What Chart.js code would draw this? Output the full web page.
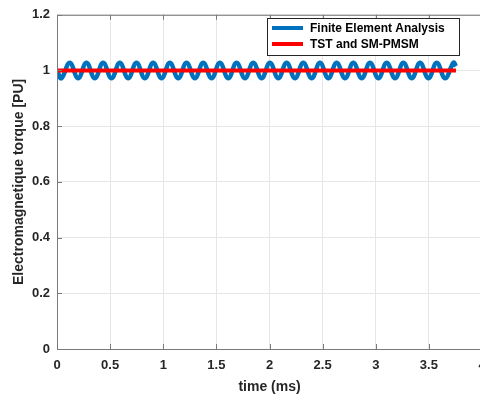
<!DOCTYPE html>
<html>
<head>
<meta charset="utf-8">
<script src="https://cdn.jsdelivr.net/npm/chart.js@4.4.1/dist/chart.umd.min.js"></script>
<style>
  html, body { margin: 0; padding: 0; overflow: hidden; background: #fff; }
  #wrap { width: 500px; height: 398px; }
</style>
</head>
<body>
<div id="wrap"><canvas id="myChart" width="500" height="398"></canvas></div>
<script>
// time (ms) of each ripple peak / trough of the FEA torque
const feaTime = [0, 0.042, 0.120, 0.199, 0.277, 0.356, 0.434, 0.513, 0.591, 0.670, 0.748,
  0.827, 0.905, 0.984, 1.062, 1.141, 1.219, 1.298, 1.376, 1.455, 1.533,
  1.612, 1.690, 1.769, 1.847, 1.926, 2.004, 2.083, 2.161, 2.240, 2.318,
  2.397, 2.475, 2.554, 2.632, 2.711, 2.789, 2.868, 2.946, 3.025, 3.103,
  3.182, 3.260, 3.339, 3.417, 3.496, 3.574, 3.653, 3.731, 3.755];
const feaTorque = [1.0, 0.972, 1.028, 0.972, 1.028, 0.972, 1.028, 0.972, 1.028, 0.972, 1.028,
  0.972, 1.028, 0.972, 1.028, 0.972, 1.028, 0.972, 1.028, 0.972, 1.028,
  0.972, 1.028, 0.972, 1.028, 0.972, 1.028, 0.972, 1.028, 0.972, 1.028,
  0.972, 1.028, 0.972, 1.028, 0.972, 1.028, 0.972, 1.028, 0.972, 1.028,
  0.972, 1.028, 0.972, 1.028, 0.972, 1.028, 0.972, 1.028, 1.015];
const tstTime = [0, 3.755];
const tstTorque = [1, 1];
const xTicks = [0, 0.5, 1, 1.5, 2, 2.5, 3, 3.5, 4];
const yTicks = [0, 0.2, 0.4, 0.6, 0.8, 1, 1.2];
const seriesNames = ['Finite Element Analysis', 'TST and SM-PMSM'];

const FONT = 'Liberation Sans, Arial, sans-serif';
const INK = '#262626';

function pts(xs, ys) {
  return xs.map((x, i) => ({ x: x, y: ys[i] }));
}

// MATLAB-like box, inward tick marks and legend
const matlabFrame = {
  id: 'matlabFrame',
  afterDraw(chart) {
    const ctx = chart.ctx;
    const a = chart.chartArea;
    const xs = chart.scales.x, ys = chart.scales.y;
    ctx.save();
    ctx.strokeStyle = '#7a7a7a';
    ctx.lineWidth = 1;
    ctx.beginPath();
    ctx.moveTo(a.left + 0.5, a.top + 0.5);
    ctx.lineTo(a.left + 0.5, a.bottom + 0.5);
    ctx.lineTo(a.right, a.bottom + 0.5);
    ctx.moveTo(a.left + 0.5, a.top + 0.5);
    ctx.lineTo(a.right, a.top + 0.5);
    xTicks.forEach(v => {
      const px = Math.round(xs.getPixelForValue(v)) + 0.5;
      ctx.moveTo(px, a.bottom); ctx.lineTo(px, a.bottom - 5);
      ctx.moveTo(px, a.top); ctx.lineTo(px, a.top + 5);
    });
    yTicks.forEach(v => {
      const py = Math.round(ys.getPixelForValue(v)) + 0.5;
      ctx.moveTo(a.left, py); ctx.lineTo(a.left + 5, py);
    });
    ctx.stroke();

    // legend box
    const bx = 267, by = 18, bw = 192, bh = 37;
    ctx.fillStyle = '#fff';
    ctx.fillRect(bx, by, bw, bh);
    ctx.strokeStyle = '#262626';
    ctx.strokeRect(bx + 0.5, by + 0.5, bw, bh);
    ctx.font = 'bold 12px ' + FONT;
    ctx.textBaseline = 'middle';
    chart.data.datasets.forEach((ds, i) => {
      const y = by + 10 + i * 16;
      ctx.strokeStyle = ds.borderColor;
      ctx.lineWidth = 4;
      ctx.beginPath();
      ctx.moveTo(bx + 5, y); ctx.lineTo(bx + 36, y);
      ctx.stroke();
      ctx.fillStyle = '#000';
      ctx.fillText(ds.label, bx + 43, y + 1);
    });
    ctx.restore();
  }
};

const ctx = document.getElementById('myChart').getContext('2d');
new Chart(ctx, {
  type: 'line',
  data: {
    datasets: [{
      label: seriesNames[0],
      data: pts(feaTime, feaTorque),
      borderColor: '#0072BD',
      borderWidth: 4.5,
      pointRadius: 0,
      tension: 0.4,
      fill: false,
      order: 1
    }, {
      label: seriesNames[1],
      data: pts(tstTime, tstTorque),
      borderColor: '#FF0000',
      borderWidth: 4,
      pointRadius: 0,
      fill: false,
      order: 0
    }]
  },
  options: {
    responsive: false,
    animation: false,
    layout: { padding: { top: 14, right: 18, left: 0, bottom: 0 } },
    plugins: {
      legend: { display: false },
      tooltip: { enabled: false }
    },
    scales: {
      x: {
        type: 'linear',
        min: 0, max: 4,
        afterBuildTicks: s => { s.ticks = xTicks.map(v => ({ value: v })); },
        afterFit: s => { s.height = 49; },
        grid: { color: '#e6e6e6', drawTicks: false },
        border: { display: false },
        ticks: {
          padding: 9,
          color: INK,
          font: { family: FONT, size: 13, weight: 'bold' },
          maxRotation: 0,
          callback: v => String(v)
        },
        title: {
          display: true,
          text: 'time (ms)',
          color: INK,
          font: { family: FONT, size: 14, weight: 'bold' },
          padding: { top: 0, bottom: 2 }
        }
      },
      y: {
        min: 0, max: 1.2,
        afterBuildTicks: s => { s.ticks = yTicks.map(v => ({ value: v })); },
        afterFit: s => { s.width = 57; },
        grid: { color: '#e6e6e6', drawTicks: false },
        border: { display: false },
        ticks: {
          padding: 7,
          color: INK,
          font: { family: FONT, size: 13, weight: 'bold' },
          callback: v => String(v)
        },
        title: {
          display: true,
          text: 'Electromagnetique torque [PU]',
          color: INK,
          font: { family: FONT, size: 14, weight: 'bold' },
          padding: { top: 11, bottom: 0 }
        }
      }
    }
  },
  plugins: [matlabFrame]
});
</script>
</body>
</html>
